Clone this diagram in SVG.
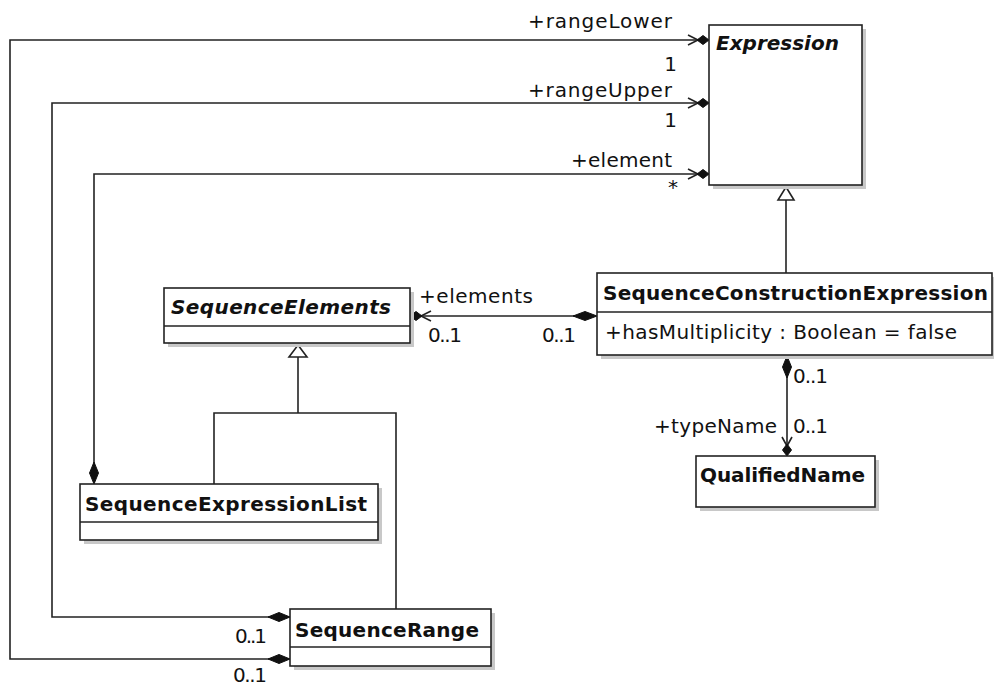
<svg xmlns="http://www.w3.org/2000/svg" width="994" height="688" viewBox="0 0 994 688">
<style>
.box{fill:#fff;stroke:#222;stroke-width:1.6}
.shadow{fill:#c8c8c8}
.div{stroke:#222;stroke-width:1.6}
.ln{fill:none;stroke:#222;stroke-width:1.6}
.dia{fill:#111;stroke:#111;stroke-width:1}
.tri{fill:#fff;stroke:#222;stroke-width:1.6}
.cn{font-family:"DejaVu Sans",sans-serif;font-size:20px;font-weight:bold;fill:#111}
.ab{font-style:italic}
.t{font-family:"DejaVu Sans",sans-serif;font-size:20px;fill:#111}
</style>
<rect width="994" height="688" fill="#fff"/>
<g id="connectors">
<polyline class="ln" points="290,659 10,659 10,40 703,40"/>
<polyline class="ln" points="290,617 52,617 52,103 703,103"/>
<polyline class="ln" points="94,470 94,174 703,174"/>
<polyline class="ln" points="688,35 698,40 688,45"/>
<polyline class="ln" points="688,98 698,103 688,108"/>
<polyline class="ln" points="688,169 698,174 688,179"/>
<polygon class="dia" points="697,40 703,35.5 709,40 703,44.5"/>
<polygon class="dia" points="697,103 703,98.5 709,103 703,107.5"/>
<polygon class="dia" points="697,174 703,169.5 709,174 703,178.5"/>
<polygon class="dia" points="268,617 279,612.5 290,617 279,621.5"/>
<polygon class="dia" points="268,659 279,654.5 290,659 279,663.5"/>
<polygon class="dia" points="94,462 98.5,473 94,484 89.5,473"/>
<line class="ln" x1="786" y1="200" x2="786" y2="273"/>
<polygon class="tri" points="786,187 794,200 778,200"/>
<polyline class="ln" points="298,357 298,413"/>
<polyline class="ln" points="214,484 214,413 396,413 396,609"/>
<polygon class="tri" points="298,345 307,357 289,357"/>
<line class="ln" x1="416" y1="316" x2="575" y2="316"/>
<polyline class="ln" points="431,311 421,316 431,321"/>
<polygon class="dia" points="410,316 416,311.5 422,316 416,320.5"/>
<polygon class="dia" points="573,316 585,311.5 597,316 585,320.5"/>
<line class="ln" x1="787" y1="375" x2="787" y2="450"/>
<polygon class="dia" points="787,356 791.5,367 787,378 782.5,367"/>
<polyline class="ln" points="782,437 787,446 792,437"/>
<polygon class="dia" points="787,444 791.5,450 787,456 782.5,450"/>
<text class="t" x="672" y="28" text-anchor="end" textLength="144">+rangeLower</text>
<text class="t" x="677" y="71" text-anchor="end">1</text>
<text class="t" x="672" y="97" text-anchor="end" textLength="144">+rangeUpper</text>
<text class="t" x="677" y="127" text-anchor="end">1</text>
<text class="t" x="672" y="167" text-anchor="end" textLength="101">+element</text>
<text class="t" x="678" y="194" text-anchor="end">*</text>
<text class="t" x="419" y="303" textLength="114">+elements</text>
<text class="t" x="428" y="342" textLength="34">0..1</text>
<text class="t" x="542" y="342" textLength="34">0..1</text>
<text class="t" x="793" y="383" textLength="35">0..1</text>
<text class="t" x="777" y="433" text-anchor="end" textLength="123">+typeName</text>
<text class="t" x="793" y="433" textLength="35">0..1</text>
<text class="t" x="235" y="643" textLength="32">0..1</text>
<text class="t" x="233" y="682" textLength="34">0..1</text>
</g>
<g id="Expression">
<rect class="shadow" x="713" y="29" width="153" height="160"/>
<rect class="box" x="709" y="25" width="153" height="160"/>
<text class="cn ab" x="716" y="50">Expression</text>
</g>
<g id="SequenceConstructionExpression">
<rect class="shadow" x="601" y="277" width="395" height="82"/>
<rect class="box" x="597" y="273" width="395" height="82"/>
<line class="div" x1="597" y1="312" x2="992" y2="312"/>
<text class="cn" x="603" y="300" textLength="385">SequenceConstructionExpression</text>
<text class="t" x="605" y="339" textLength="352">+hasMultiplicity : Boolean = false</text>
</g>
<g id="SequenceElements">
<rect class="shadow" x="168" y="292" width="246" height="55"/>
<rect class="box" x="164" y="288" width="246" height="55"/>
<line class="div" x1="164" y1="326" x2="410" y2="326"/>
<text class="cn ab" x="171" y="314" textLength="220">SequenceElements</text>
</g>
<g id="QualifiedName">
<rect class="shadow" x="700" y="460" width="179" height="51"/>
<rect class="box" x="696" y="456" width="179" height="51"/>
<text class="cn" x="700" y="482" textLength="165">QualifiedName</text>
</g>
<g id="SequenceExpressionList">
<rect class="shadow" x="84" y="488" width="298" height="56"/>
<rect class="box" x="80" y="484" width="298" height="56"/>
<line class="div" x1="80" y1="522" x2="378" y2="522"/>
<text class="cn" x="85" y="511" textLength="282">SequenceExpressionList</text>
</g>
<g id="SequenceRange">
<rect class="shadow" x="294" y="613" width="201" height="57"/>
<rect class="box" x="290" y="609" width="201" height="57"/>
<line class="div" x1="290" y1="647" x2="491" y2="647"/>
<text class="cn" x="295" y="637" textLength="184">SequenceRange</text>
</g>
</svg>
